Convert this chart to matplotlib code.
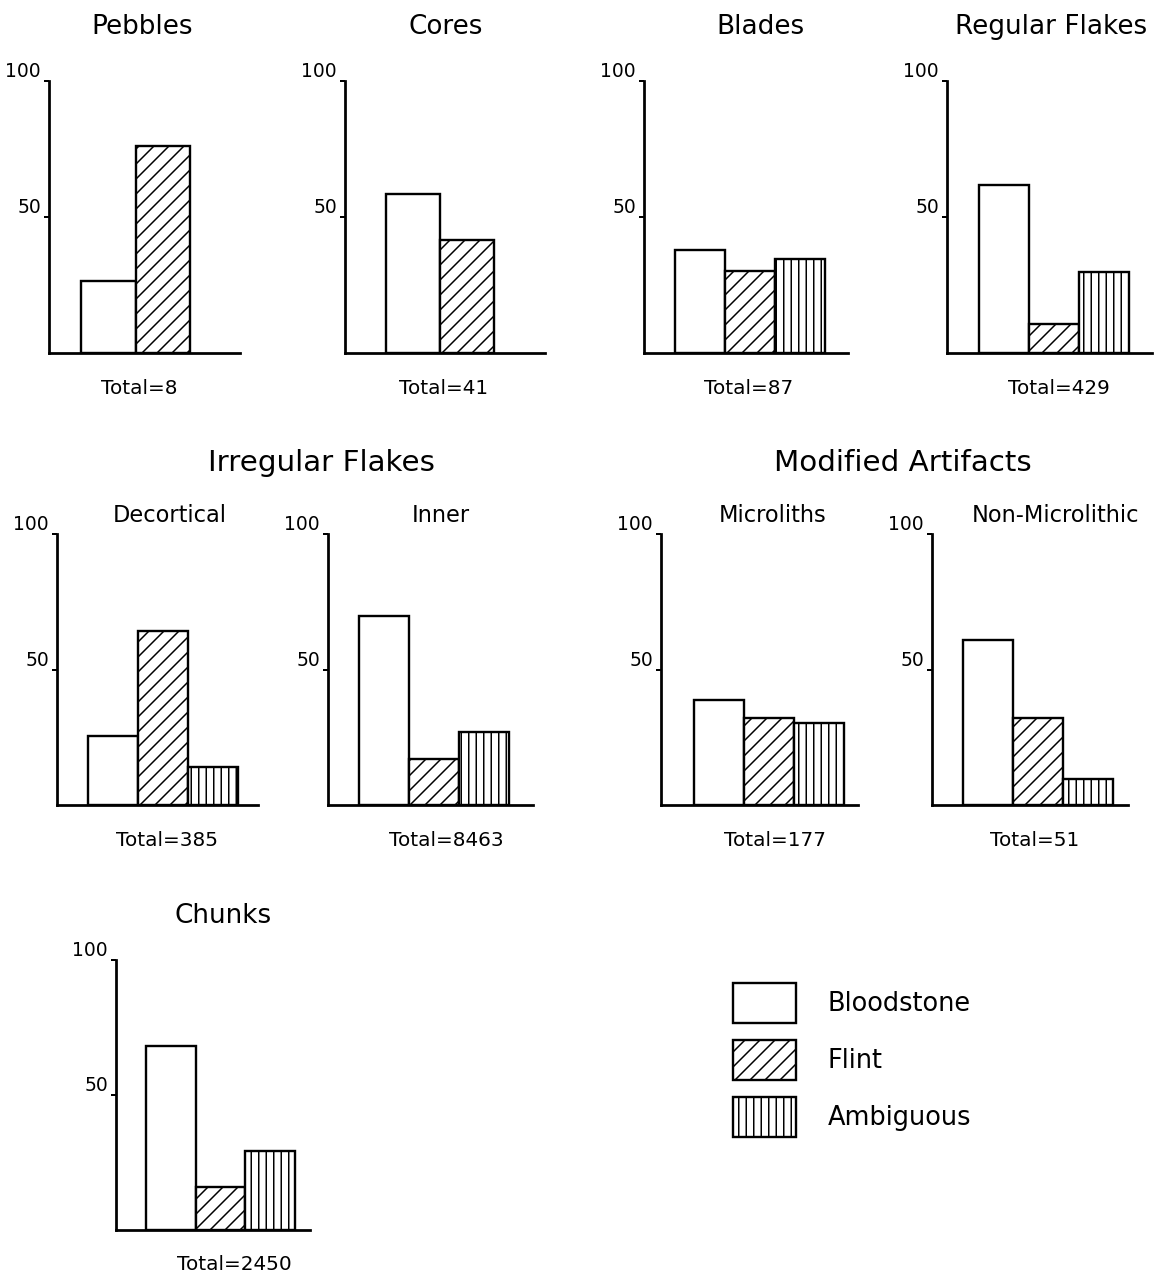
import matplotlib
matplotlib.use("Agg")
import matplotlib.pyplot as plt
from matplotlib.patches import Rectangle

# ---------------- data ----------------
MATERIALS = ["Bloodstone", "Flint", "Ambiguous"]

PEBBLES = [26.5, 76.1]
CORES = [58.3, 41.6]
BLADES = [38.0, 30.3, 34.7]
REGULAR_FLAKES = [61.6, 10.7, 29.9]
DECORTICAL = [25.5, 64.2, 14.0]
INNER = [69.9, 17.1, 27.1]
MICROLITHS = [38.9, 32.2, 30.4]
NON_MICROLITHIC = [60.8, 32.2, 9.5]
CHUNKS = [68.1, 15.9, 29.3]

TOTALS = {"Pebbles": 8, "Cores": 41, "Blades": 87, "Regular Flakes": 429,
          "Decortical": 385, "Inner": 8463, "Microliths": 177,
          "Non-Microlithic": 51, "Chunks": 2450}

Y_TICKS = [50, 100]
GROUP_TITLES = ["Irregular Flakes", "Modified Artifacts"]

# ---------------- layout ----------------
W, H, DPI = 1160, 1278, 90
plt.rcParams["font.family"] = ["DejaVu Sans"]
plt.rcParams["hatch.color"] = "black"
plt.rcParams["hatch.linewidth"] = 1.2

HATCHES = ["", "//", "||"]
LW = 1.9

fig = plt.figure(figsize=(W / DPI, H / DPI), dpi=DPI)
fig.patch.set_facecolor("white")

# overlay axes in pixel coordinates for texts and legend
ov = fig.add_axes([0, 0, 1, 1], zorder=5)
ov.set_xlim(0, W)
ov.set_ylim(H, 0)
ov.axis("off")
ov.patch.set_alpha(0)

# (name, values, x_axis, x_end, y0, y100, bar_start, bar_width, title_x, title_y, title_size, total_x, total_y)
ROW1 = (353, 81)
ROW2 = (805, 534)
ROW3 = (1230, 960)
panels = [
    ("Pebbles", PEBBLES, 49, 240, *ROW1, 81, 54.5, 142, 27, 21, 139, 388),
    ("Cores", CORES, 345, 545, *ROW1, 386, 54, 446, 27, 21, 444, 388),
    ("Blades", BLADES, 644, 848, *ROW1, 675, 50, 760, 27, 21, 749, 388),
    ("Regular Flakes", REGULAR_FLAKES, 947, 1152, *ROW1, 979, 50, 1051, 27, 21, 1059, 388),
    ("Decortical", DECORTICAL, 57, 258, *ROW2, 88, 50, 170, 516, 18, 167, 840),
    ("Inner", INNER, 328, 533, *ROW2, 359, 50, 441, 516, 18, 446, 840),
    ("Microliths", MICROLITHS, 661, 858, *ROW2, 694, 50, 773, 516, 18, 775, 840),
    ("Non-Microlithic", NON_MICROLITHIC, 932, 1128, *ROW2, 963, 50, 1055, 516, 18, 1035, 840),
    ("Chunks", CHUNKS, 116, 310, *ROW3, 146, 49.5, 223, 916, 21, 234, 1265),
]

for (name, vals, xa, xe, y0, y100, bstart, bw, tx, ty, tsize, totx, toty) in panels:
    ax = fig.add_axes([xa / W, 1 - y0 / H, (xe - xa) / W, (y0 - y100) / H])
    ax.set_xlim(0, xe - xa)
    ax.set_ylim(0, 100)
    xs = [bstart - xa + i * bw for i in range(len(vals))]
    for i, (x, v) in enumerate(zip(xs, vals)):
        ax.bar(x, v, width=bw, align="edge", facecolor="white",
               edgecolor="black", hatch=HATCHES[i], linewidth=LW, zorder=2)
    for s in ("top", "right"):
        ax.spines[s].set_visible(False)
    for s in ("left", "bottom"):
        ax.spines[s].set_linewidth(2.2)
        ax.spines[s].set_zorder(3)
    ax.set_xticks([])
    ax.set_yticks(Y_TICKS)
    ax.set_yticklabels([])
    ax.tick_params(axis="y", direction="out", length=4, width=1.6)
    ax.patch.set_alpha(0)
    for t in Y_TICKS:
        ax.annotate(str(t), xy=(0, t), xycoords=("axes fraction", "data"),
                    xytext=(-8, 0), textcoords="offset pixels",
                    ha="right", va="bottom", fontsize=15)
    ov.text(tx, ty, name, ha="center", va="center", fontsize=tsize)
    ov.text(totx, toty, f"Total={TOTALS[name]}", ha="center", va="center", fontsize=16)

# group titles
ov.text(321, 463, GROUP_TITLES[0], ha="center", va="center", fontsize=23.5)
ov.text(903, 463, GROUP_TITLES[1], ha="center", va="center", fontsize=23.5)

# legend
leg_y = [983, 1040, 1097]
for i, (mat, ly) in enumerate(zip(MATERIALS, leg_y)):
    ov.add_patch(Rectangle((733, ly), 63, 40, facecolor="white", edgecolor="black",
                           hatch=HATCHES[i], linewidth=LW))
    ov.text(828, ly + 21, mat, ha="left", va="center", fontsize=20.5)

fig.savefig("out.png", dpi=DPI, facecolor="white")
